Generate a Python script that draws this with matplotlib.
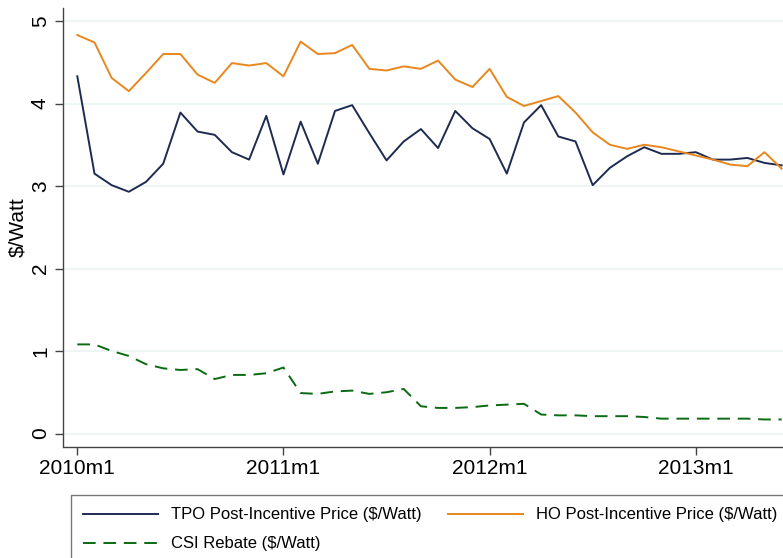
import numpy as np
import matplotlib
matplotlib.use("Agg")
import matplotlib.pyplot as plt

plt.rcParams['font.family'] = ['Liberation Sans', 'DejaVu Sans']

# monthly series, 2010m1 .. 2013m6
months = np.arange(42)
tick_pos = [0, 12, 24, 36]
tick_labels = ["2010m1", "2011m1", "2012m1", "2013m1"]

tpo_price = [4.33, 3.15, 3.01, 2.93, 3.05, 3.27, 3.89, 3.66, 3.62, 3.41, 3.32, 3.85, 3.14, 3.78,
             3.27, 3.91, 3.98, 3.64, 3.31, 3.54, 3.69, 3.46, 3.91, 3.70, 3.57, 3.15, 3.77,
             3.98, 3.60, 3.54, 3.01, 3.22, 3.36, 3.47, 3.39, 3.39, 3.41, 3.32, 3.32, 3.34, 3.28, 3.25]
ho_price = [4.83, 4.74, 4.31, 4.15, 4.37, 4.60, 4.60, 4.35, 4.25, 4.49, 4.46, 4.49, 4.33, 4.75,
            4.60, 4.61, 4.71, 4.42, 4.40, 4.45, 4.42, 4.52, 4.29, 4.20, 4.42, 4.08, 3.97,
            4.03, 4.09, 3.89, 3.65, 3.50, 3.45, 3.50, 3.47, 3.42, 3.37, 3.32, 3.26, 3.24, 3.41, 3.21]
csi_rebate = [1.08, 1.08, 1.00, 0.94, 0.84, 0.79, 0.77, 0.78, 0.66, 0.71, 0.71, 0.73, 0.80, 0.49,
              0.48, 0.51, 0.52, 0.48, 0.50, 0.54, 0.33,
              0.31, 0.31, 0.32, 0.34, 0.35, 0.36, 0.23, 0.22, 0.22, 0.21, 0.21, 0.21, 0.20, 0.18,
              0.18, 0.18, 0.18, 0.18, 0.18, 0.17, 0.17]

W, H = 783, 558
fig = plt.figure(figsize=(W / 100, H / 100), dpi=100)
# axes box in pixels: left 63.5, top 8, bottom 447, running past the right edge
ax = fig.add_axes([63.5 / W, (H - 447) / H, 736.5 / W, 439 / H])

l_tpo, = ax.plot(months, tpo_price, color='#1e2b50', lw=1.4)
l_ho, = ax.plot(months, ho_price, color='#e8871e', lw=1.4)
l_csi, = ax.plot(months, csi_rebate, color='#0b6a12', lw=1.4, dashes=(6.5, 4))

px_per_month = 17.18
ax.set_xlim(-13.8 / px_per_month, -13.8 / px_per_month + 736.5 / px_per_month)
ax.set_ylim(-13.5 / 82.5, 5 + 13 / 82.5)

ax.set_xticks(tick_pos)
ax.set_xticklabels(tick_labels)
ax.set_yticks([0, 1, 2, 3, 4, 5])
ax.yaxis.grid(True, color='#eaf2f3', lw=1.1)
ax.set_axisbelow(True)

for s in ['top', 'right']:
    ax.spines[s].set_visible(False)
for s in ['left', 'bottom']:
    ax.spines[s].set_color('#444444')
    ax.spines[s].set_linewidth(1.0)

ax.tick_params(axis='both', colors='#444444', length=5.8, width=1.0, labelsize=15,
               labelcolor='black')
ax.tick_params(axis='x', pad=2.5)
ax.tick_params(axis='y', pad=4, labelrotation=90)
for lab in ax.get_yticklabels():
    lab.set_va('center')

ax.set_ylabel('$/Watt', fontsize=15)
ax.yaxis.set_label_coords(-36 / 736.5, 0.5)

# column-major fill: TPO / CSI in first column, HO in second
leg = ax.legend([l_tpo, l_csi, l_ho],
                ['TPO Post-Incentive Price ($/Watt)', 'CSI Rebate ($/Watt)',
                 'HO Post-Incentive Price ($/Watt)'],
                loc='upper left', bbox_to_anchor=(71 / W, 1 - 495 / H),
                bbox_transform=fig.transFigure, borderaxespad=0, ncol=2,
                fontsize=12, handlelength=4.5, handletextpad=0.75, columnspacing=1.6,
                labelspacing=0.84, borderpad=0.74, fancybox=False, frameon=True)
leg.get_frame().set_edgecolor('#555555')
leg.get_frame().set_linewidth(1.0)

fig.savefig('out.png', dpi=100)
